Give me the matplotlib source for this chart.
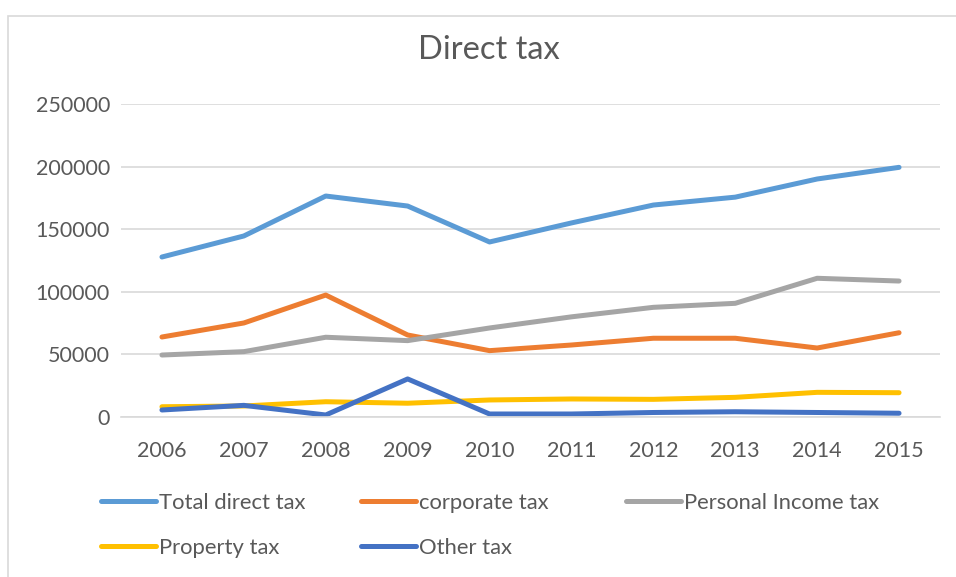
import matplotlib.pyplot as plt
from matplotlib.lines import Line2D
from matplotlib.patches import Rectangle

plt.rcParams['font.family'] = ['Lato', 'DejaVu Sans']

years = ['2006', '2007', '2008', '2009', '2010', '2011', '2012', '2013', '2014', '2015']
total_direct = [127800, 144600, 176500, 168500, 139800, 155000, 169300, 175600, 190100, 199400]
corporate = [63900, 75100, 97400, 65500, 53000, 57500, 62900, 62900, 55100, 67300]
personal_income = [49500, 52200, 63700, 61000, 71100, 80000, 87600, 90800, 110800, 108600]
property_tax = [8200, 8800, 12200, 11000, 13600, 14400, 14100, 15700, 19700, 19400]
other_tax = [5600, 9300, 1600, 30400, 2400, 2400, 3600, 4200, 3600, 3000]

series = [
    ('Total direct tax', total_direct, '#5B9BD5'),
    ('corporate tax', corporate, '#ED7D31'),
    ('Personal Income tax', personal_income, '#A5A5A5'),
    ('Property tax', property_tax, '#FFC000'),
    ('Other tax', other_tax, '#4472C4'),
]

W, H = 956, 577
fig = plt.figure(figsize=(W / 100, H / 100), dpi=100)
ax = fig.add_axes([121 / W, 1 - 417 / H, 819 / W, 313 / H])

x = range(len(years))
for name, vals, col in series:
    ax.plot(x, vals, color=col, lw=3.6, solid_capstyle='round', solid_joinstyle='round')

ax.set_xlim(-0.5, len(years) - 0.5)
ax.set_ylim(0, 250000)
ax.set_yticks(range(0, 250001, 50000))
ax.set_xticks(list(x))
ax.set_xticklabels(years)
ax.grid(axis='y', color='#D9D9D9', lw=1.2)
ax.set_axisbelow(True)
for s in ['left', 'right', 'top']:
    ax.spines[s].set_visible(False)
ax.spines['bottom'].set_color('#D9D9D9')
ax.spines['bottom'].set_linewidth(1.2)
ax.tick_params(axis='both', length=0, labelsize=15.5, colors='#595959')
ax.tick_params(axis='x', pad=17)
ax.tick_params(axis='y', pad=8)

fig.text(489 / W, 1 - 50 / H, 'Direct tax', ha='center', va='center', fontsize=23.5, color='#595959')

# legend, row-major layout as in the reference: three columns
cols = [[0, 3], [1, 4], [2]]
col_x = [101, 361, 626]
for idx, cx in zip(cols, col_x):
    handles = [Line2D([], [], color=series[i][2], lw=3.6, solid_capstyle='round') for i in idx]
    labels = [series[i][0] for i in idx]
    lg = fig.legend(handles, labels, loc='upper left', bbox_to_anchor=(cx / W, 1 - 493 / H),
                    frameon=False, fontsize=15.8, handlelength=2.5, handletextpad=0.15,
                    labelspacing=1.12, borderpad=0, borderaxespad=0)
    for t in lg.get_texts():
        t.set_color('#595959')

fig.patches.append(Rectangle((8 / W, -0.1), 1.2, 1 - 16 / H + 0.1, transform=fig.transFigure,
                             fill=False, edgecolor='#D9D9D9', lw=1.2))

fig.savefig('out.png', dpi=100)
